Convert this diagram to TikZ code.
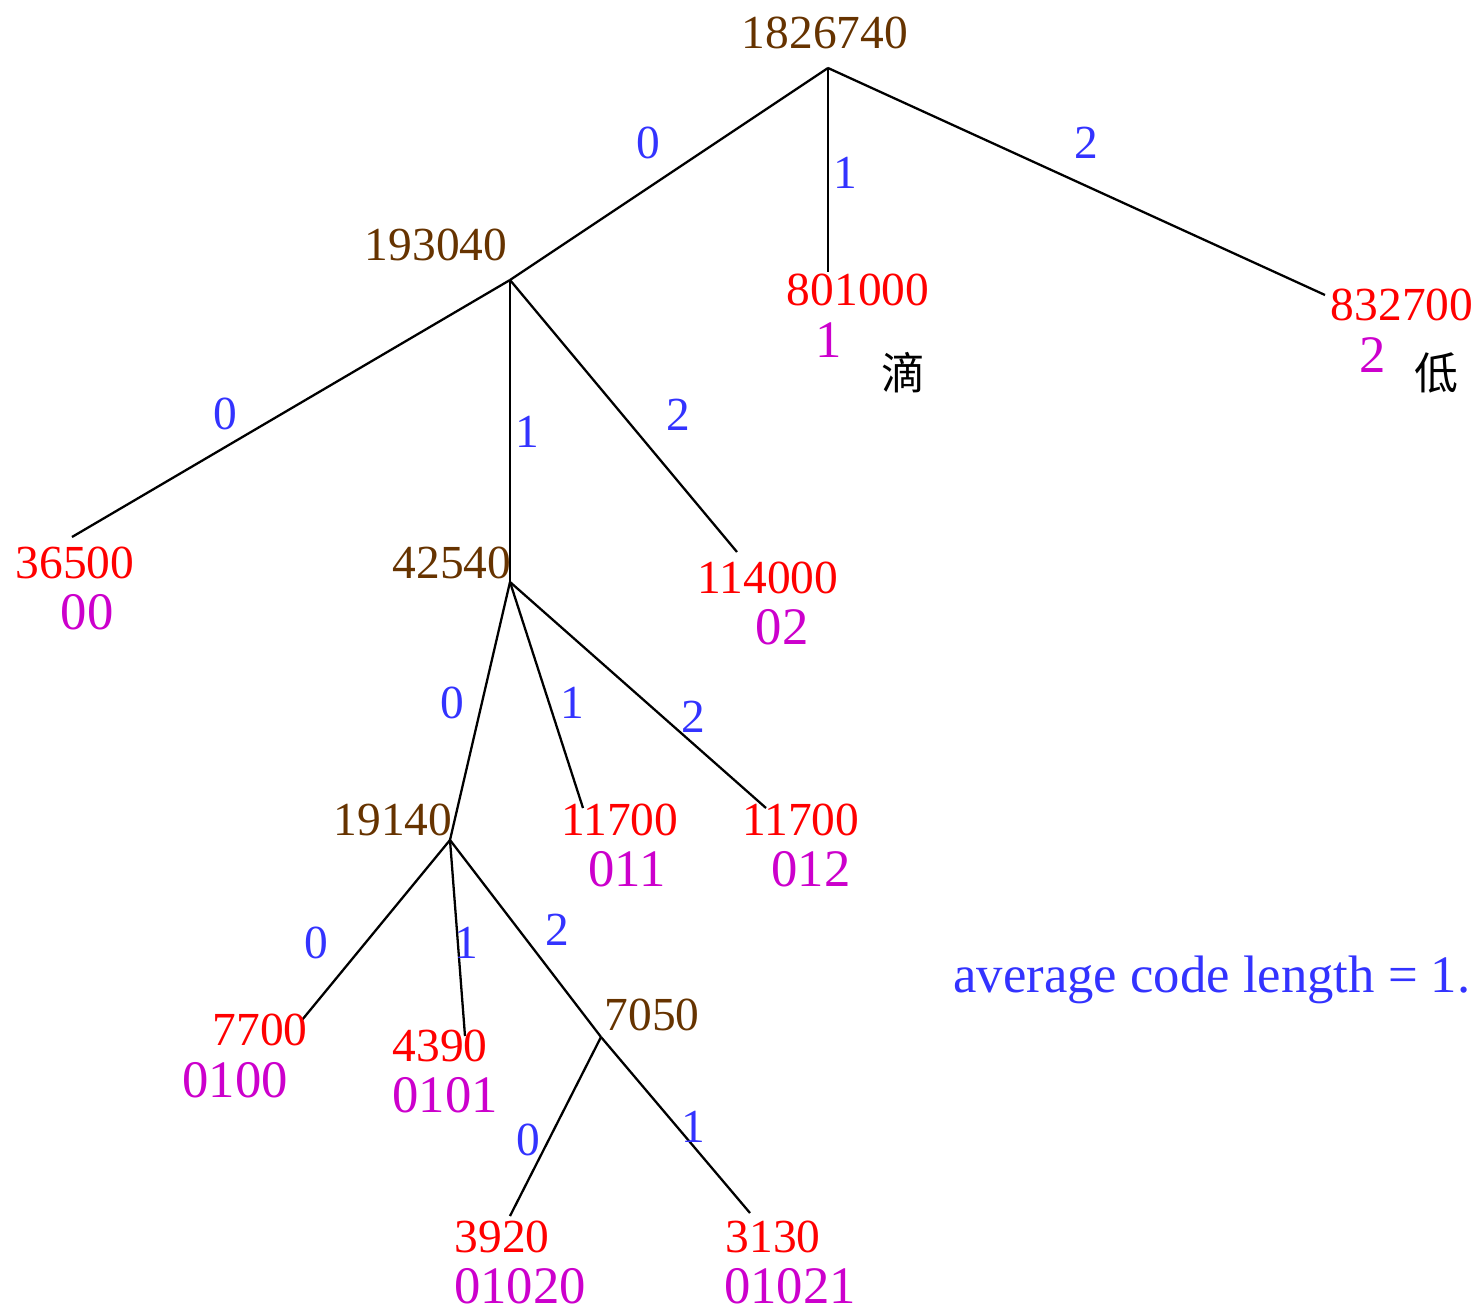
\documentclass[tikz,border=0pt]{standalone}
\usepackage{fontspec}
\setmainfont{Liberation Serif}
\newfontfamily\cjk{Noto Sans CJK SC}
\usepackage{xcolor}
\usepackage{tikz}
\usetikzlibrary{positioning}

\definecolor{sumbrown}{HTML}{663300}
\definecolor{leafred}{HTML}{FF0000}
\definecolor{codemag}{HTML}{CC00CC}
\definecolor{bitblue}{HTML}{3333FF}

\tikzset{
  txt/.style={inner sep=0pt, font=\fontsize{27}{32}\selectfont},
  big/.style={inner sep=0pt, font=\fontsize{30}{36}\selectfont},
  sum/.style={txt, text=sumbrown},
  leaf/.style={txt, text=leafred},
  code/.style={big, text=codemag},
  bit/.style={txt, text=bitblue},
  word/.style={inner sep=0pt, font=\cjk\fontsize{25}{30}\selectfont},
  edge/.style={black, line width=1.3pt}
}

\begin{document}
\begin{tikzpicture}[x=0.02cm, y=-0.02cm]
\useasboundingbox (0,0) rectangle (1480,1314);
% junctions and leaf ends
\coordinate (r) at (828,68);
\coordinate (a) at (510,280);
\coordinate (b) at (510,582);
\coordinate (c) at (450,840);
\coordinate (d) at (601,1037);
\coordinate (l1) at (828,272);
\coordinate (l2) at (1325,295);
\coordinate (l00) at (72,537);
\coordinate (l02) at (737,552);
\coordinate (l011) at (583,808);
\coordinate (l012) at (766,808);
\coordinate (l0100) at (302,1020);
\coordinate (l0101) at (465,1036);
\coordinate (l01020) at (510,1216);
\coordinate (l01021) at (750,1213);

% edges
\draw[edge] (r) -- (a);
\draw[edge] (r) -- (l1);
\draw[edge] (r) -- (l2);
\draw[edge] (a) -- (l00);
\draw[edge] (a) -- (b);
\draw[edge] (a) -- (l02);
\draw[edge] (b) -- (c);
\draw[edge] (b) -- (l011);
\draw[edge] (b) -- (l012);
\draw[edge] (c) -- (l0100);
\draw[edge] (c) -- (l0101);
\draw[edge] (c) -- (d);
\draw[edge] (d) -- (l01020);
\draw[edge] (d) -- (l01021);

% inner sums
\node[sum] (nr) at (825,33) {1826740};
\node[sum] (na) at (436,245) {193040};
\node[sum] (nb) at (452,563) {42540};
\node[sum] (nc) at (393,820) {19140};
\node[sum] (nd) at (652,1015) {7050};

% leaves with codes
\node[leaf] (n1) at (858,290) {801000};
\node[code] (c1) at (829,340) {1};
\node[word] (w1) at (903,373) {滴};
\node[leaf] (n2) at (1402,305) {832700};
\node[code] (c2) at (1373,355) {2};
\node[word] (w2) at (1436,373) {低};
\node[leaf] (n00) at (75,563) {36500};
\node[code] (c00) at (87,612) {00};
\node[leaf] (n02) at (768,578) {114000};
\node[code] (c02) at (782,627) {02};
\node[leaf] (n011) at (620,820) {11700};
\node[code] (c011) at (627,869) {011};
\node[leaf] (n012) at (801,820) {11700};
\node[code] (c012) at (811,869) {012};
\node[leaf] (n0100) at (260,1030) {7700};
\node[code] (c0100) at (235,1080) {0100};
\node[leaf] (n0101) at (440,1046) {4390};
\node[code] (c0101) at (445,1095) {0101};
\node[leaf] (n01020) at (502,1237) {3920};
\node[code] (c01020) at (520,1286) {01020};
\node[leaf] (n01021) at (773,1237) {3130};
\node[code] (c01021) at (790,1286) {01021};

% branch digits
\node[bit] (e0) at (648,143) {0};
\node[bit] (e1) at (845,173) {1};
\node[bit] (e2) at (1086,143) {2};
\node[bit] (e00) at (225,414) {0};
\node[bit] (e01) at (527,432) {1};
\node[bit] (e02) at (678,415) {2};
\node[bit] (e010) at (452,703) {0};
\node[bit] (e011) at (572,703) {1};
\node[bit] (e012) at (693,717) {2};
\node[bit] (e0100) at (316,943) {0};
\node[bit] (e0101) at (466,943) {1};
\node[bit] (e0102) at (557,930) {2};
\node[bit] (e01020) at (528,1140) {0};
\node[bit] (e01021) at (693,1127) {1};

\node[big, text=bitblue, anchor=base west] (avg) at (953,992) {average code length = 1.};
\end{tikzpicture}
\end{document}
